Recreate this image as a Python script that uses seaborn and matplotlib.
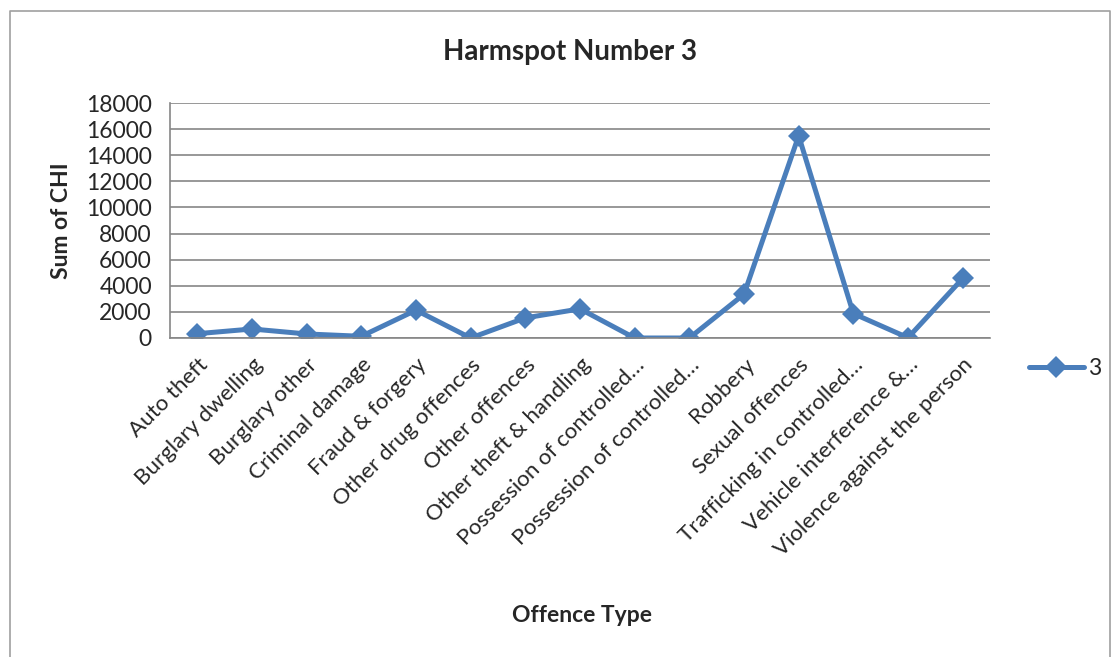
import matplotlib
matplotlib.use('Agg')
import matplotlib.pyplot as plt
import numpy as np
import pandas as pd
import seaborn as sns
from matplotlib.lines import Line2D

sns.set_style('white')
plt.rcParams['font.family'] = ['Lato', 'DejaVu Sans']

offence_types = ['Auto theft', 'Burglary dwelling', 'Burglary other',
                 'Criminal damage', 'Fraud & forgery', 'Other drug offences',
                 'Other offences', 'Other theft & handling',
                 'Possession of controlled\u2026',
                 'Possession of controlled\u2026', 'Robbery',
                 'Sexual offences', 'Trafficking in controlled\u2026',
                 'Vehicle interference &\u2026', 'Violence against the person']
chi_sum = [330, 690, 310, 130, 2130, 0, 1540, 2230, 0, 0, 3350, 15490,
           1870, 20, 4560]
series_name = '3'
y_ticks = np.arange(0, 18001, 2000)

line_color = '#4A7EBB'
grid_color = '#868686'
fs = 16.5

df = pd.DataFrame({'pos': np.arange(len(offence_types)), 'chi': chi_sum,
                   'series': series_name})

fig = plt.figure(figsize=(11.2, 6.57), dpi=100)
ax = fig.add_axes([170 / 1120, 1 - 338 / 657, 820 / 1120, 235 / 657])

sns.lineplot(data=df, x='pos', y='chi', hue='series', palette=[line_color],
             marker='D', markersize=11, markeredgewidth=0, linewidth=3.6,
             ax=ax)

ax.set_xlim(-0.5, len(offence_types) - 0.5)
ax.set_ylim(0, 18000)
ax.set_yticks(y_ticks)
ax.set_yticklabels([str(v) for v in y_ticks], fontsize=fs)
ax.yaxis.grid(True, color=grid_color, linewidth=1.2)
ax.set_axisbelow(True)

ax.set_xticks(np.arange(len(offence_types)))
ax.set_xticklabels(offence_types, rotation=45, ha='right',
                   rotation_mode='anchor', fontsize=16)
ax.set_xticks(np.arange(-0.5, len(offence_types)), minor=True)
ax.tick_params(axis='x', which='major', length=0, pad=12)
ax.tick_params(axis='x', which='minor', length=6, color=grid_color,
               width=1.2, direction='out')
ax.tick_params(axis='y', length=6, color=grid_color, width=1.2,
               direction='out', pad=7)

for side in ['top', 'right']:
    ax.spines[side].set_visible(False)
for side in ['left', 'bottom']:
    ax.spines[side].set_color(grid_color)
    ax.spines[side].set_linewidth(1.2)

ax.set_xlabel('Offence Type', fontsize=fs, fontweight='bold', va='center')
ax.xaxis.set_label_coords((582 - 170) / 820, (338 - 615) / 235)
ax.set_ylabel('Sum of CHI', fontsize=fs, fontweight='bold', va='center')
ax.yaxis.set_label_coords((62 - 170) / 820, 0.5)
fig.text(570 / 1120, 1 - 52 / 657, 'Harmspot Number 3', fontsize=20,
         fontweight='bold', ha='center', va='center')

ax.legend(loc='center left', bbox_to_anchor=(1.022, -0.128), frameon=False,
          fontsize=fs, handlelength=2.4, handletextpad=0.2)

# light grey chart frame, bottom edge runs off the image
fig.add_artist(Line2D([10 / 1120, 10 / 1120, 1110 / 1120, 1110 / 1120],
                      [0, 1 - 11 / 657, 1 - 11 / 657, 0],
                      transform=fig.transFigure, color='#A0A0A0',
                      linewidth=1.2))

fig.savefig('out.png', dpi=100)
